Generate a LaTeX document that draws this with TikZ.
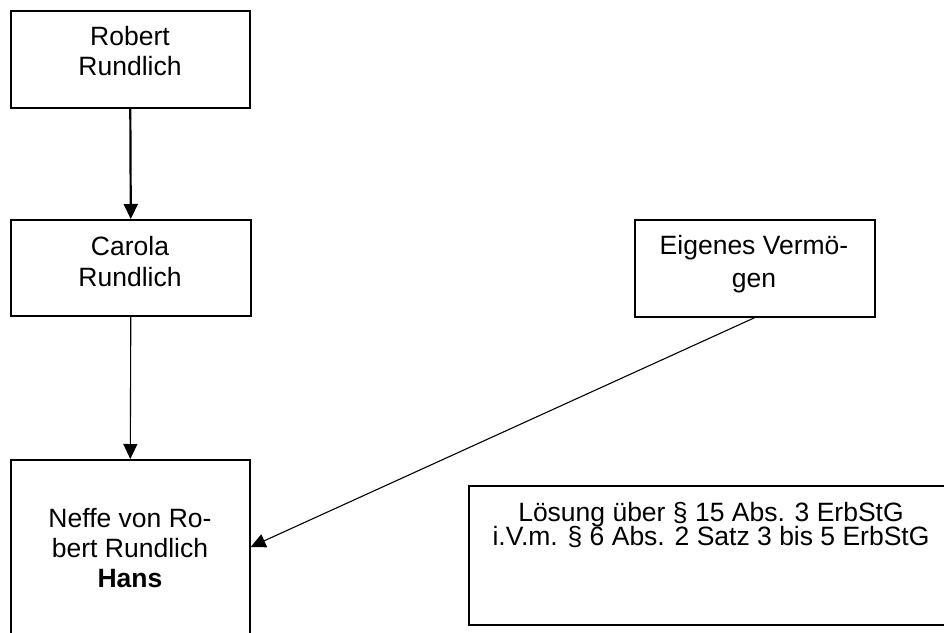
\documentclass[tikz,border=0pt]{standalone}
\usepackage{fontspec}
\setmainfont{Liberation Sans}
\usetikzlibrary{arrows.meta,calc}
\begin{document}
\begin{tikzpicture}[x=1pt,y=-1pt,
  box/.style={draw, line width=1.6pt, inner sep=0pt, anchor=north west},
  lbl/.style={anchor=base, align=center, inner sep=0pt, font=\fontsize{26.5pt}{30pt}\selectfont},
  conn/.style={line width=1.1pt, -{Triangle[length=15pt,width=14pt]}},
  thickconn/.style={conn, line width=2.2pt},
]
\useasboundingbox (0,0) rectangle (944,632);
\clip (0,0) rectangle (944,632);
% boxes
\node[box, minimum width=239pt, minimum height=97pt] (robert) at (10,10) {};
\node[box, minimum width=240pt, minimum height=96pt] (carola) at (10,219) {};
\node[box, minimum width=239pt, minimum height=260pt] (hans) at (10,459) {};
\node[box, minimum width=240pt, minimum height=97pt] (eigen) at (634,219) {};
\node[box, minimum width=500pt, minimum height=139pt] (loesung) at (468,485) {};
% texts (base anchor = baseline of last line)
\node[lbl] (robertT) at (130,75) {Robert\\Rundlich};
\node[lbl] (carolaT) at (130,286) {Carola\\[1pt]Rundlich};
\node[lbl] (hansT) at (130,587) {Neffe von Ro-\\bert Rundlich\\\textbf{Hans}};
\node[lbl] (eigenT) at (754,287) {Eigenes Vermö-\\[3pt]gen};
\node[lbl] (loesungT) at (711,545) {Lösung über § 15 Abs. 3 ErbStG\\[-6pt]i.V.m. § 6 Abs. 2 Satz 3 bis 5 ErbStG};
% connectors
\coordinate (hansin) at ($(hans.north east)+(0,88)$);
\draw[thickconn] (robert.south) -- (carola.north);
\draw[conn] (carola.south) -- (hans.north);
\draw[conn] (eigen.south) -- (hansin);
\end{tikzpicture}
\end{document}
